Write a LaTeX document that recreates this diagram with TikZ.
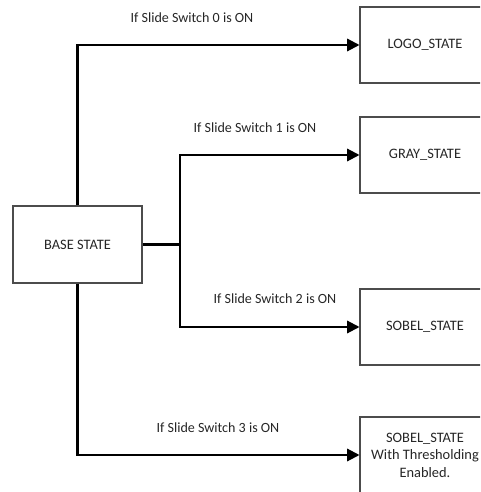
\documentclass[tikz,border=0pt]{standalone}
\usepackage{fontspec}
\setmainfont{Carlito}
\usepackage{tikz}
\usetikzlibrary{arrows.meta}

\begin{document}
\begin{tikzpicture}[x=0.02cm,y=-0.02cm,
  >={Triangle[length=7pt,width=7pt]},
  state/.style={draw=black!70,line width=0.6pt,fill=white,minimum width=2.6cm,
    minimum height=1.52cm,align=center,font=\fontsize{8.2}{10}\selectfont,inner sep=1pt,text=black!85},
  cond/.style={font=\fontsize{8}{9}\selectfont,inner sep=1pt,text=black!85},
  wire/.style={line width=1.2pt}]
\clip (0,0) rectangle (480,492);
\node[state,minimum width=2.58cm,minimum height=1.54cm] (base) at (77.5,244.5) {BASE STATE};
\node[state] (logo)   at (425,45)  {LOGO\_STATE};
\node[state] (gray)   at (425,155) {GRAY\_STATE};
\node[state] (sobel)  at (425,327) {SOBEL\_STATE};
\node[state] (thresh) at (425,455) {SOBEL\_STATE\\With Thresholding\\Enabled.};
\coordinate (fork) at (180,244.5);
\draw[wire,->] (base.north) |- (logo.west);
\draw[wire] (base.east) -- (fork);
\draw[wire,->] (fork) |- (gray.west);
\draw[wire,->] (fork) |- (sobel.west);
\draw[wire,->] (base.south) |- (thresh.west);
\node[cond] (c0) at (192,18)  {If Slide Switch 0 is ON};
\node[cond] (c1) at (255,128) {If Slide Switch 1 is ON};
\node[cond] (c2) at (275,299) {If Slide Switch 2 is ON};
\node[cond] (c3) at (218,428) {If Slide Switch 3 is ON};
\end{tikzpicture}
\end{document}
